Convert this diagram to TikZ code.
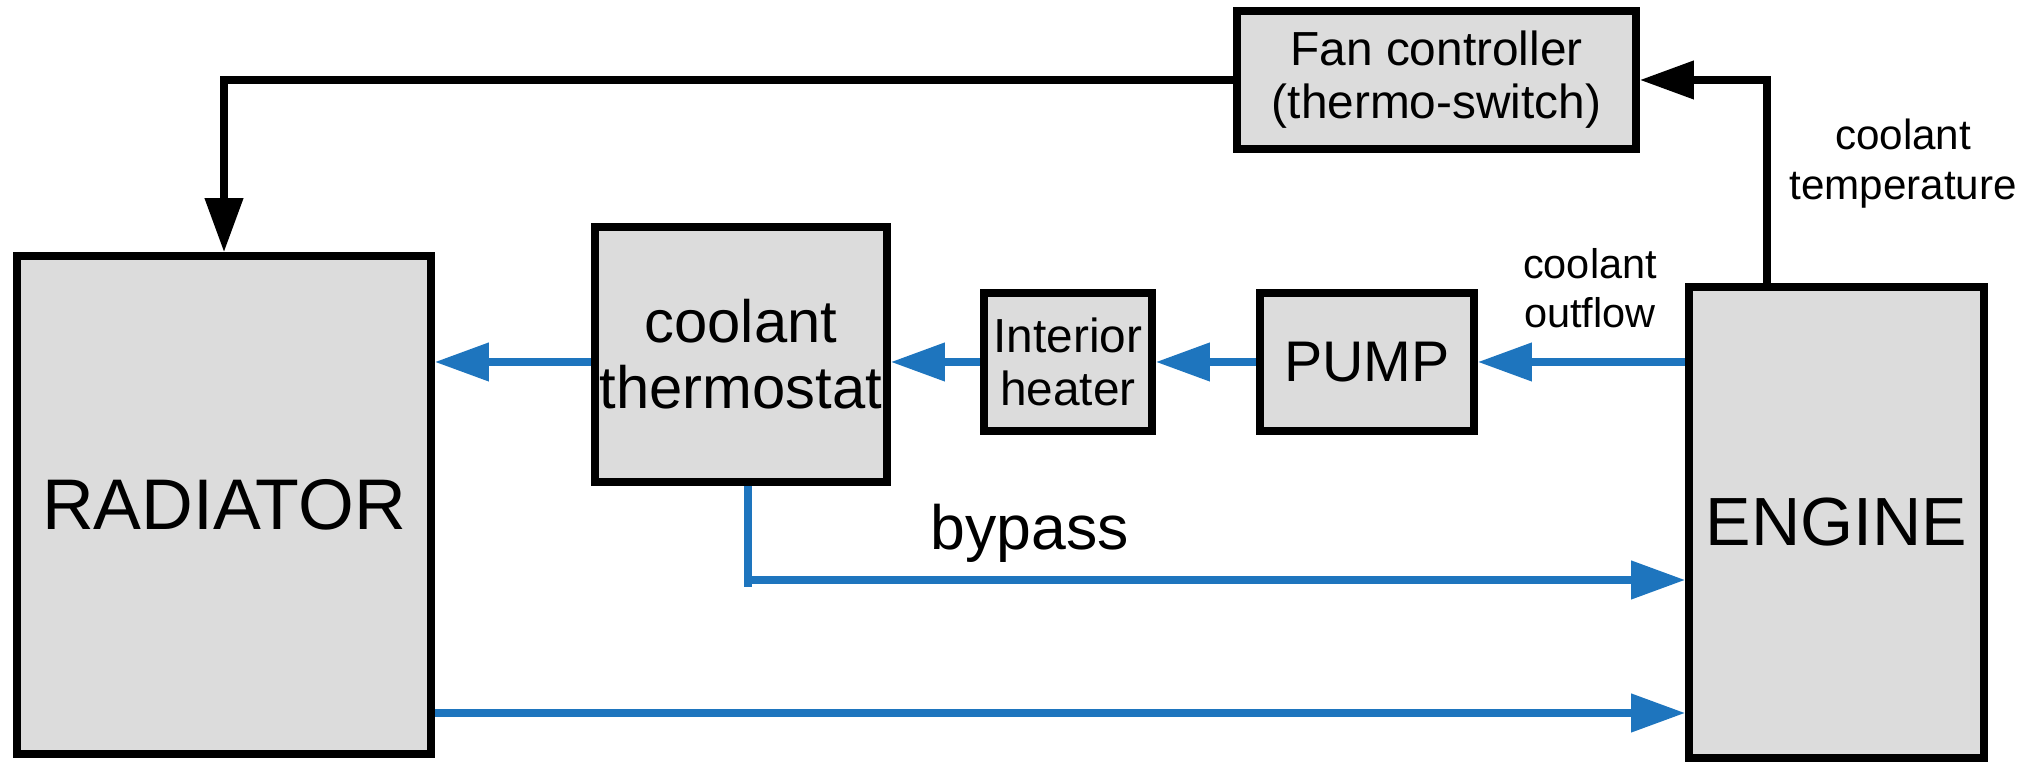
\documentclass[tikz,border=0pt]{standalone}
\usepackage{fontspec}
\setmainfont{Liberation Sans}
\usepackage{xcolor}
\usetikzlibrary{arrows.meta,positioning,calc}
\definecolor{flowblue}{RGB}{30,117,190}
\definecolor{boxgray}{RGB}{220,220,220}

\begin{document}
\begin{tikzpicture}[
  unit/.style={draw, line width=2.2pt, fill=boxgray, align=center, inner sep=0pt},
  bigtxt/.style={font=\fontsize{20}{24}\selectfont},
  midtxt/.style={font=\fontsize{17}{18.8}\selectfont},
  smalltxt/.style={font=\fontsize{13.6}{15}\selectfont},
  note/.style={align=center, font=\fontsize{12}{14.2}\selectfont},
  flow/.style={-{Triangle[length=0.54cm, width=0.37cm]}, line width=2.1pt, color=flowblue},
  ctrl/.style={-{Triangle[length=0.54cm, width=0.37cm]}, line width=2.1pt, color=black},
]
\useasboundingbox (0,0) rectangle (20.42,7.63);

\node[unit, bigtxt, font=\fontsize{20.4}{24}\selectfont, minimum width=4.14cm, minimum height=4.98cm] (rad) at (2.24,2.58) {RADIATOR};
\node[unit, midtxt, minimum width=2.92cm, minimum height=2.55cm] (thermo) at (7.41,4.085) {coolant\\thermostat};
\node[unit, smalltxt, minimum width=1.68cm, minimum height=1.38cm] (heater) at (10.68,4.01) {Interior\\heater};
\node[unit, midtxt, font=\fontsize{16.3}{18.8}\selectfont, minimum width=2.14cm, minimum height=1.38cm] (pump) at (13.67,4.01) {PUMP};
\node[unit, bigtxt, font=\fontsize{19.4}{23}\selectfont, minimum width=2.95cm, minimum height=4.71cm] (engine) at (18.365,2.405) {ENGINE};
\node[unit, smalltxt, minimum width=3.99cm, minimum height=1.38cm] (fan) at (14.365,6.83) {Fan controller\\(thermo-switch)};

\node[note] (templbl) at (19.03,5.99) {coolant\\temperature};
\node[note, font=\fontsize{11.8}{14}\selectfont] (outlbl) at (15.90,4.745) {coolant\\outflow};
\node[font=\fontsize{17.8}{20}\selectfont] (bplbl) at (10.30,2.30) {bypass};

\coordinate (bpcorner) at (7.48,1.83);
\coordinate (retlevel) at (0,0.50);

\draw[flow] (engine.west |- pump.east) -- (pump.east);
\draw[flow] (pump.west) -- (heater.east);
\draw[flow] (heater.west) -- (thermo.east |- heater.west);
\draw[flow] (thermo.west |- heater.west) -- (rad.east |- heater.west);
\draw[flowblue, line width=2.1pt] (thermo.south -| bpcorner) -- ([yshift=-0.07cm]bpcorner);
\draw[flow] (bpcorner) -- (engine.west |- bpcorner);
\draw[flow] (rad.east |- retlevel) -- (engine.west |- retlevel);

\draw[ctrl] (fan.west) -| (rad.north);
\draw[ctrl] ([xshift=-0.695cm]engine.north) |- (fan.east);

\end{tikzpicture}
\end{document}
